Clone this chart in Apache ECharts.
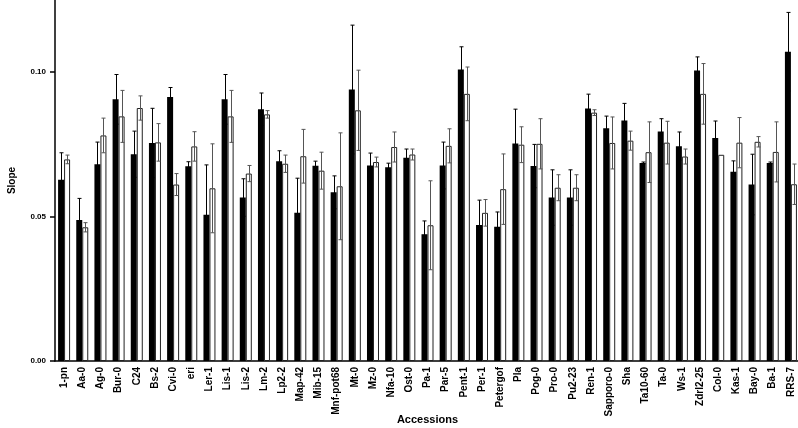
<!DOCTYPE html>
<html>
<head>
<meta charset="utf-8">
<script src="https://cdn.jsdelivr.net/npm/echarts@6/dist/echarts.min.js"></script>
<style>
    html, body { margin: 0; padding: 0; background: #fff; }
    #chart { width: 798px; height: 428px; }
</style>
</head>
<body>
<div id="chart"></div>
<script>
    // accessions along the x axis
    const categories = ['1-pn', 'Aa-0', 'Ag-0', 'Bur-0', 'C24', 'Bs-2', 'Cvi-0', 'eri', 'Ler-1', 'Lis-1',
        'Lis-2', 'Lm-2', 'Lp2-2', 'Map-42', 'Mib-15', 'Mnf-pot68', 'Mt-0', 'Mz-0', 'Nfa-10', 'Ost-0',
        'Pa-1', 'Par-5', 'Pent-1', 'Per-1', 'Petergof', 'Pla', 'Pog-0', 'Pro-0', 'Pu2-23', 'Ren-1',
        'Sapporo-0', 'Sha', 'Ta10-60', 'Ta-0', 'Ws-1', 'Zdrl2-25', 'Col-0', 'Kas-1', 'Bay-0', 'Ba-1', 'RRS-7']

    // black bars
    const blackVals = [0.0628, 0.0488, 0.0681, 0.0906, 0.0716, 0.0755, 0.0914, 0.0674, 0.0506, 0.0906,
        0.0566, 0.0872, 0.0692, 0.0513, 0.0676, 0.0584, 0.0940, 0.0677, 0.0671, 0.0704,
        0.0439, 0.0677, 0.1009, 0.0471, 0.0465, 0.0753, 0.0675, 0.0566, 0.0566, 0.0874,
        0.0806, 0.0833, 0.0686, 0.0795, 0.0744, 0.1006, 0.0772, 0.0655, 0.0611, 0.0686, 0.1071]
    const blackErr = [0.0093, 0.0075, 0.0077, 0.0086, 0.0080, 0.0120, 0.0033, 0.0016, 0.0173, 0.0086,
        0.0065, 0.0056, 0.0036, 0.0120, 0.0016, 0.0057, 0.0223, 0.0043, 0.0014, 0.0030,
        0.0046, 0.0081, 0.0079, 0.0086, 0.0051, 0.0119, 0.0075, 0.0096, 0.0096, 0.0050,
        0.0042, 0.0059, 0.0003, 0.0044, 0.0049, 0.0047, 0.0059, 0.0038, 0.0105, 0.0003, 0.0136]

    // white bars
    const whiteVals = [0.0698, 0.0463, 0.0781, 0.0847, 0.0876, 0.0757, 0.0611, 0.0743, 0.0598, 0.0847,
        0.0649, 0.0854, 0.0683, 0.0709, 0.0659, 0.0605, 0.0868, 0.0689, 0.0741, 0.0715,
        0.0470, 0.0745, 0.0925, 0.0513, 0.0595, 0.0749, 0.0752, 0.0600, 0.0600, 0.0860,
        0.0755, 0.0763, 0.0723, 0.0756, 0.0708, 0.0925, 0.0714, 0.0756, 0.0759, 0.0724, 0.0612]
    const whiteErr = [0.0015, 0.0016, 0.0060, 0.0090, 0.0042, 0.0065, 0.0038, 0.0051, 0.0154, 0.0090,
        0.0028, 0.0013, 0.0030, 0.0093, 0.0064, 0.0185, 0.0139, 0.0017, 0.0052, 0.0019,
        0.0154, 0.0059, 0.0093, 0.0046, 0.0122, 0.0062, 0.0087, 0.0045, 0.0045, 0.0010,
        0.0090, 0.0033, 0.0105, 0.0074, 0.0026, 0.0105, 0.0000, 0.0087, 0.0018, 0.0104, 0.0070]

    const yTicks = [0, 0.05, 0.10]

    const font = 'Liberation Sans, Arial, sans-serif'
    const barW = 6

    // error bar drawer, offset = shift from category centre
    function errorBars(offset, color) {
        return function (params, api) {
            let x = api.value(0)
            let v = api.value(1)
            let e = api.value(2)
            if (!e) return null
            let hi = api.coord([x, v + e])
            let lo = api.coord([x, v - e])
            let cx = Math.round(hi[0] + offset) + 0.5
            let style = { stroke: color, lineWidth: 1 }
            return {
                type: 'group',
                children: [
                    { type: 'line', shape: { x1: cx, y1: hi[1], x2: cx, y2: lo[1] }, style: style },
                    { type: 'line', shape: { x1: cx - 2, y1: hi[1], x2: cx + 2, y2: hi[1] }, style: style },
                    { type: 'line', shape: { x1: cx - 2, y1: lo[1], x2: cx + 2, y2: lo[1] }, style: style }
                ]
            }
        }
    }

    let chart = echarts.init(document.getElementById('chart'))
    chart.setOption({
        animation: false,
        backgroundColor: '#fff',
        grid: { left: 55, top: 0, width: 745, height: 361, outerBoundsMode: 'none', containLabel: false },
        xAxis: {
            type: 'category',
            data: categories,
            name: 'Accessions',
            nameLocation: 'middle',
            nameGap: 53,
            nameMoveOverlap: false,
            nameTextStyle: { fontFamily: font, fontWeight: 'bold', fontSize: 11, color: '#000' },
            axisLine: { lineStyle: { color: '#000', width: 1.5 } },
            axisTick: { alignWithLabel: true, length: 4, lineStyle: { color: '#000', width: 1.5 } },
            axisLabel: {
                interval: 0, rotate: 90, margin: 6,
                fontFamily: font, fontWeight: 'bold', fontSize: 10, color: '#000'
            }
        },
        yAxis: {
            type: 'value',
            min: 0,
            max: 0.125,
            interval: 0.05,
            name: 'Slope',
            nameLocation: 'middle',
            nameGap: 38,
            nameMoveOverlap: false,
            nameRotate: 90,
            nameTextStyle: { fontFamily: font, fontWeight: 'bold', fontSize: 10, color: '#000' },
            splitLine: { show: false },
            axisLine: { show: true, lineStyle: { color: '#000', width: 1.5 } },
            axisTick: { show: true, length: 5, customValues: yTicks, lineStyle: { color: '#000', width: 1.5 } },
            axisLabel: {
                margin: 9,
                customValues: yTicks,
                fontFamily: font, fontWeight: 'bold', fontSize: 8, color: '#000',
                formatter: function (v) {
                    return yTicks.some(t => Math.abs(t - v) < 1e-9) ? v.toFixed(2) : ''
                }
            }
        },
        series: [
            {
                type: 'bar',
                data: blackVals,
                barWidth: barW,
                barGap: '0%',
                itemStyle: { color: '#000' },
                z: 2
            },
            {
                type: 'bar',
                data: whiteVals,
                barWidth: barW,
                barGap: '0%',
                itemStyle: { color: '#fff', borderColor: '#222', borderWidth: 1 },
                z: 2
            },
            {
                type: 'custom',
                renderItem: errorBars(-barW / 2, '#000'),
                data: blackVals.map((v, i) => [i, v, blackErr[i]]),
                encode: { x: 0, y: 1 },
                z: 3
            },
            {
                type: 'custom',
                renderItem: errorBars(barW / 2, '#555'),
                data: whiteVals.map((v, i) => [i, v, whiteErr[i]]),
                encode: { x: 0, y: 1 },
                z: 3
            }
        ]
    })
</script>
</body>
</html>
